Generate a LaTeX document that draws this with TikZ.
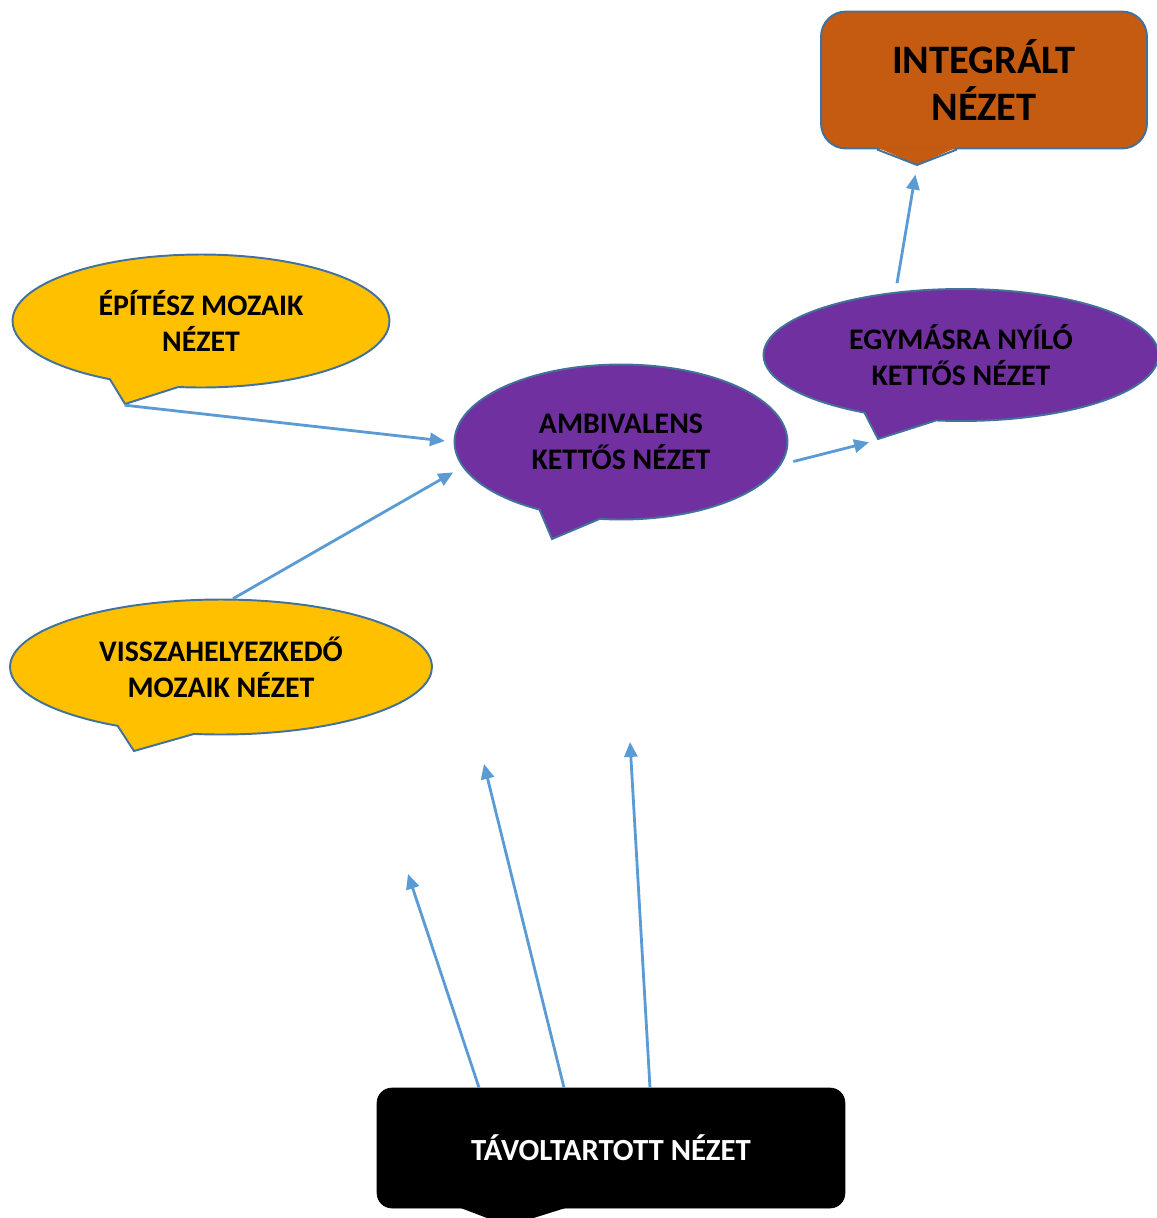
\documentclass[tikz,border=0pt]{standalone}
\usepackage{fontspec}
\setmainfont{Carlito}
\usetikzlibrary{shapes.callouts,arrows.meta}
\definecolor{outline}{HTML}{41719C}
\definecolor{arrowblue}{HTML}{5B9BD5}
\definecolor{mosaic}{HTML}{FFC000}
\definecolor{dual}{HTML}{7030A0}
\definecolor{integ}{HTML}{C55A11}
\tikzset{
  bubble/.style={ellipse callout, draw=outline, line width=1.1pt, callout pointer arc=22,
    font=\bfseries\fontsize{17}{20.4}\selectfont, align=center, inner sep=0pt},
  conn/.style={draw=arrowblue, line width=1.6pt, -{Triangle[length=8.5pt,width=7.5pt]}},
}
\begin{document}
\begin{tikzpicture}[x=0.02cm, y=-0.02cm]
  \clip (0,0) rectangle (1157,1218);
  % mosaic views on the left
  \node[bubble, fill=mosaic, minimum width=7.54cm, minimum height=2.66cm,
    callout absolute pointer={(125,404)}] (epitesz) at (201,321) {ÉPÍTÉSZ MOZAIK\\NÉZET};
  \node[bubble, fill=mosaic, minimum width=8.44cm, minimum height=2.7cm,
    callout absolute pointer={(134,751)}] (vissza) at (221,667) {VISSZAHELYEZKEDŐ\\MOZAIK NÉZET};
  % dual views
  \node[bubble, fill=dual, minimum width=6.66cm, minimum height=3.1cm,
    callout absolute pointer={(552,539)}] (ambivalens) at (621,442) {AMBIVALENS\\KETTŐS NÉZET};
  \node[bubble, fill=dual, minimum width=7.9cm, minimum height=2.64cm,
    callout absolute pointer={(878,439)}] (egymasra) at (961,355) {EGYMÁSRA NYÍLÓ\\KETTŐS NÉZET};
  % integrated view, top right (box + tail)
  \node[draw=outline, line width=1.1pt, fill=integ, rounded corners=0.5cm,
    minimum width=6.52cm, minimum height=2.74cm, align=center, inner sep=0pt,
    font=\bfseries\fontsize{23}{26.7}\selectfont] (integralt) at (984,80) {INTEGRÁLT\\NÉZET};
  \coordinate (itip) at (917,165);
  \fill[integ] ([xshift=-2.14cm,yshift=1.2pt]integralt.south) -- (itip)
    -- ([xshift=-0.54cm,yshift=1.2pt]integralt.south) -- cycle;
  \draw[outline, line width=1.1pt] ([xshift=-2.14cm]integralt.south) -- (itip)
    -- ([xshift=-0.54cm]integralt.south);
  % distant view, bottom (box + tail)
  \node[draw=black, fill=black, text=white, rounded corners=0.3cm,
    minimum width=9.36cm, minimum height=2.4cm, inner sep=0pt,
    font=\bfseries\fontsize{17.5}{20.4}\selectfont] (tavol) at (611,1148) {TÁVOLTARTOTT NÉZET};
  \coordinate (ttip) at (508,1226);
  \fill[black] ([xshift=-3.08cm,yshift=1pt]tavol.south) -- (ttip)
    -- ([xshift=-0.82cm,yshift=1pt]tavol.south) -- cycle;
  % free ends of the arrows from the bottom box
  \coordinate (t1) at (408,874);
  \coordinate (t2) at (484,764);
  \coordinate (t3) at (630,742);
  % connectors
  \draw[conn, shorten >=5pt] (epitesz.pointer) -- (ambivalens.west);
  \draw[conn, shorten >=6pt] (vissza.80) -- (ambivalens.189);
  \draw[conn, shorten <=7pt, shorten >=5pt] (ambivalens.-8) -- (egymasra.pointer);
  \draw[conn, shorten <=5pt, shorten >=5.5pt] (egymasra.136) -- (itip);
  \draw[conn] ([xshift=-2.64cm]tavol.north) -- (t1);
  \draw[conn] ([xshift=-0.94cm]tavol.north) -- (t2);
  \draw[conn] ([xshift=0.78cm]tavol.north) -- (t3);
\end{tikzpicture}
\end{document}
